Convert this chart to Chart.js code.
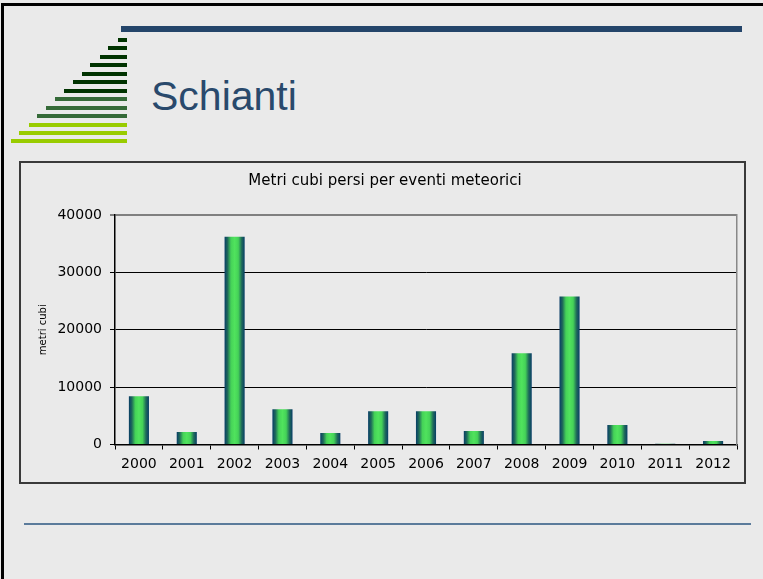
<!DOCTYPE html>
<html>
<head>
<meta charset="utf-8">
<script src="https://cdn.jsdelivr.net/npm/chart.js@4"></script>
<style>
    body { margin: 0; width: 763px; height: 579px; background: #eaeaea; overflow: hidden; position: relative; font-family: 'Liberation Sans', Arial, sans-serif; }
    .frame { position: absolute; left: 1px; top: 3px; width: 800px; height: 600px; border-left: 3px solid #000; border-top: 3px solid #000; }
    .topbar { position: absolute; left: 121px; top: 26px; width: 621px; height: 6px; background: #24456a; }
    .stripe { position: absolute; height: 4px; }
    .heading { position: absolute; left: 151px; top: 72px; font-size: 41px; color: #29496c; line-height: 48px; }
    .box { position: absolute; left: 19px; top: 161px; width: 727px; height: 323px; box-sizing: border-box; border: 2px solid #3a3a3a; }
    .wrap { position: absolute; left: 21px; top: 163px; width: 724px; height: 320px; }
    .rule { position: absolute; left: 24px; top: 523px; width: 727px; height: 2px; background: #5b7b9b; }
</style>
</head>
<body>
<div class="frame"></div>
<div class="topbar"></div>
<div id="stripes"></div>
<div class="heading">Schianti</div>
<div class="box"></div>
<div class="wrap"><canvas id="chart"></canvas></div>
<div class="rule"></div>
<script>
// decorative stripes, [top, left, colour]
const stripes = [
    [38, 118, '#003300'], [46, 108, '#003300'], [55, 100, '#003300'], [63, 90, '#003300'],
    [72, 82, '#003300'], [80, 73, '#003300'], [89, 64, '#003300'],
    [97, 55, '#356a38'], [106, 46, '#356a38'], [114, 37, '#356a38'],
    [123, 29, '#99cc00'], [131, 19, '#99cc00'], [139, 11, '#99cc00']
];
const stripeBox = document.getElementById('stripes');
stripes.forEach(s => {
    const d = document.createElement('div');
    d.className = 'stripe';
    d.style.top = s[0] + 'px';
    d.style.left = s[1] + 'px';
    d.style.width = (127 - s[1]) + 'px';
    d.style.background = s[2];
    stripeBox.appendChild(d);
});

const years = ['2000', '2001', '2002', '2003', '2004', '2005', '2006', '2007', '2008', '2009', '2010', '2011', '2012'];
const metriCubi = [8400, 2200, 36200, 6150, 2000, 5800, 5800, 2350, 15900, 25800, 3400, 150, 600];
const yTicks = [0, 10000, 20000, 30000, 40000];

Chart.defaults.font.family = "'DejaVu Sans', Verdana, sans-serif";
Chart.defaults.color = '#000';

const barGradient = (ctx) => {
    const chart = ctx.chart;
    if (!chart.chartArea || !chart.scales.x) return '#4fe35c';
    const xs = chart.scales.x;
    const cx = xs.getPixelForValue(ctx.dataIndex);
    const half = xs.width / years.length * 0.42 / 2;
    const g = chart.ctx.createLinearGradient(cx - half, 0, cx + half, 0);
    g.addColorStop(0, '#083d66');
    g.addColorStop(0.15, '#1f6a5a');
    g.addColorStop(0.32, '#45d258');
    g.addColorStop(0.5, '#50e35d');
    g.addColorStop(0.68, '#45d258');
    g.addColorStop(0.85, '#1f6a5a');
    g.addColorStop(1, '#083d66');
    return g;
};

new Chart(document.getElementById('chart'), {
    type: 'bar',
    data: {
        labels: years,
        datasets: [{
            label: 'metri cubi',
            data: metriCubi,
            backgroundColor: barGradient,
            borderWidth: 0,
            barPercentage: 0.42,
            categoryPercentage: 1
        }]
    },
    options: {
        responsive: true,
        maintainAspectRatio: false,
        animation: false,
        layout: { padding: { left: 12, right: 8, top: 0, bottom: 0 } },
        plugins: {
            legend: { display: false },
            tooltip: { enabled: false },
            title: {
                display: true,
                text: 'Metri cubi persi per eventi meteorici',
                font: { size: 15, weight: 'normal' },
                padding: { top: 9, bottom: 25 }
            }
        },
        scales: {
            x: {
                grid: { offset: true, drawOnChartArea: false, tickLength: 5, color: '#000' },
                border: { color: '#000', width: 1.5 },
                ticks: { font: { size: 14 }, padding: 6, maxRotation: 0 },
                afterFit: s => { s.height = 38.5; }
            },
            y: {
                min: 0,
                max: 40000,
                afterBuildTicks: s => { s.ticks = yTicks.map(v => ({ value: v })); },
                grid: {
                    color: c => c.tick && c.tick.value === 40000 ? '#808080' : '#000',
                    lineWidth: c => c.tick && c.tick.value === 40000 ? 2 : 1,
                    tickLength: 5
                },
                border: { color: '#000', width: 1.5 },
                ticks: { font: { size: 14 }, padding: 8, callback: v => String(v) },
                title: { display: true, text: 'metri cubi', font: { size: 10 }, padding: 4 },
                afterFit: s => { s.width = 82; }
            },
            y1: {
                position: 'right',
                min: 0,
                max: 1,
                grid: { display: false },
                ticks: { display: false },
                border: { color: '#888', width: 1.5 },
                afterFit: s => { s.width = 0; }
            }
        }
    }
});
</script>
</body>
</html>
